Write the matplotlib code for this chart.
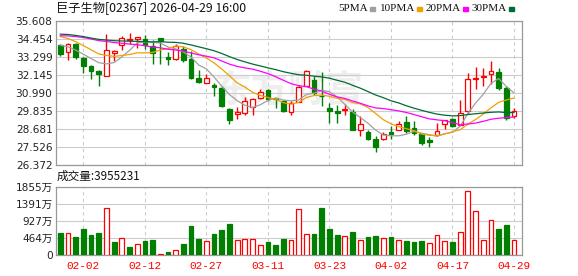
import numpy as np
import matplotlib
matplotlib.use("Agg")
import matplotlib.pyplot as plt
from matplotlib.patches import Rectangle

# 日期 (HK trading days)
dates = ["01-28", "01-29", "01-30", "02-02", "02-03", "02-04", "02-05", "02-06",
         "02-09", "02-10", "02-11", "02-12", "02-13", "02-16", "02-20", "02-23",
         "02-24", "02-25", "02-26", "02-27", "03-02", "03-03", "03-04", "03-05",
         "03-06", "03-09", "03-10", "03-11", "03-12", "03-13", "03-16", "03-17",
         "03-18", "03-19", "03-20", "03-23", "03-24", "03-25", "03-26", "03-27",
         "03-30", "03-31", "04-01", "04-02", "04-08", "04-09", "04-10", "04-13",
         "04-14", "04-15", "04-16", "04-17", "04-20", "04-21", "04-22", "04-23",
         "04-24", "04-27", "04-28", "04-29"]

opens = [34.07, 33.60, 34.13, 33.22, 32.73, 32.36, 32.05, 33.54, 34.05, 34.35,
         34.43, 34.43, 34.01, 34.50, 33.26, 33.15, 33.79, 33.15, 31.94, 31.62,
         31.49, 31.30, 29.96, 29.61, 29.70, 30.06, 30.66, 31.19, 30.64, 30.49,
         29.74, 30.42, 31.45, 31.79, 30.79, 30.00, 29.85, 29.90, 29.74, 28.63,
         28.50, 28.03, 28.03, 28.46, 28.63, 29.12, 28.74, 28.36, 27.99, 28.27,
         29.00, 29.30, 28.95, 29.81, 31.88, 32.00, 32.22, 32.30, 31.30, 29.49]
highs = [34.10, 34.15, 34.15, 33.26, 32.75, 32.47, 34.77, 33.73, 34.60, 34.82,
         34.58, 34.71, 34.39, 34.52, 33.60, 34.10, 33.96, 33.69, 32.47, 32.22,
         31.62, 31.41, 30.00, 30.09, 30.73, 30.64, 31.26, 31.23, 30.66, 30.55,
         30.45, 31.49, 32.47, 32.09, 32.32, 30.34, 30.24, 30.30, 29.96, 29.49,
         28.63, 28.21, 28.46, 28.88, 29.17, 29.49, 29.17, 28.42, 28.14, 29.06,
         29.27, 29.41, 30.55, 32.26, 32.67, 32.60, 33.01, 32.58, 31.45, 30.00]
lows = [33.32, 33.07, 33.17, 32.26, 31.90, 31.41, 32.05, 33.00, 33.75, 34.13,
        33.86, 33.79, 32.81, 32.81, 32.79, 33.10, 32.94, 31.87, 31.62, 31.62,
        30.81, 30.09, 29.02, 29.32, 29.59, 29.55, 30.60, 30.45, 30.03, 29.74,
        29.59, 30.38, 31.41, 30.87, 30.17, 29.06, 29.06, 29.60, 28.59, 28.25,
        27.98, 27.18, 27.98, 28.03, 28.59, 28.42, 28.31, 27.67, 27.50, 28.21,
        28.69, 28.82, 28.91, 29.64, 31.21, 31.40, 31.58, 31.15, 29.23, 29.38]
closes = [33.49, 34.13, 33.26, 32.68, 32.36, 32.19, 33.73, 33.68, 34.50, 34.44,
          34.56, 34.07, 33.54, 34.28, 33.17, 33.96, 33.07, 31.94, 31.71, 31.94,
          31.34, 30.17, 29.23, 29.78, 30.47, 30.60, 31.06, 30.60, 30.58, 29.81,
          30.34, 31.34, 32.37, 30.98, 30.77, 29.85, 29.70, 29.96, 28.59, 28.97,
          28.03, 27.50, 28.38, 28.33, 28.97, 28.53, 28.42, 27.78, 27.85, 28.55,
          29.27, 28.88, 29.72, 31.90, 31.92, 32.05, 32.37, 31.30, 29.38, 29.81]
# 成交量 (万股)
volumes = [606, 597, 489, 706, 543, 597, 1267, 353, 452, 217,
           290, 380, 407, 27, 81, 127, 299, 787, 434, 380,
           570, 679, 842, 407, 425, 425, 262, 353, 271, 434,
           407, 1240, 561, 570, 1276, 706, 543, 507, 624, 407,
           489, 516, 452, 489, 407, 380, 353, 380, 317, 534,
           380, 353, 624, 1729, 1186, 407, 950, 706, 815, 395.5231]
# closes before the visible window (for the moving averages)
prior_closes = [34.8, 35.1, 34.9, 35.2, 34.7, 35.0, 34.9, 35.1, 34.8, 35.0,
                34.4, 34.1, 33.9, 34.2, 34.3, 34.8, 35.1, 35.4, 35.5, 35.3,
                35.4, 35.3, 35.2, 35.0, 34.9, 34.6, 34.3, 34.0, 33.76]

ma_periods = [5, 10, 20, 30]
ma_labels = ["5PMA", "10PMA", "20PMA", "30PMA"]
ma_colors = ["#a0a0a0", "#f0a000", "#ff00ff", "#006b35"]

tick_dates = ["02-02", "02-12", "02-27", "03-11", "03-23", "04-02", "04-17", "04-29"]
price_ticks = [26.372, 27.526, 28.681, 29.835, 30.990, 32.145, 33.299, 34.454, 35.608]
vol_ticks = [0, 464, 927, 1391, 1855]

RED = "#ff0000"
GREEN = "#007f00"
GRID = "#cccccc"
FRAME = "#999999"

W, H = 578, 276
fig = plt.figure(figsize=(W / 100, H / 100), dpi=100)


def fx(px):
    return px / W


def fy(py):
    return 1 - py / H


ax_p = fig.add_axes([fx(56), fy(165), fx(466), 144.3 / H])
ax_v = fig.add_axes([fx(56), fy(255), fx(466), 68.3 / H])

x = np.arange(len(dates))
o = np.array(opens)
c = np.array(closes)
up = c >= o
prev = np.array(prior_closes[-1:] + closes[:-1])
vol_up = c >= prev

# candles
ax_p.vlines(x, lows, highs, colors=np.where(up, RED, GREEN), linewidth=1, zorder=2)
body_lo = np.minimum(o, c)
body_h = np.maximum(np.abs(c - o), 0.03)
ax_p.bar(x, body_h, bottom=body_lo, width=0.62,
         color=np.where(up, "white", GREEN), edgecolor=np.where(up, RED, GREEN),
         linewidth=0.9, zorder=3)

# moving averages
all_closes = np.array(prior_closes + closes)
for n, col in zip(ma_periods, ma_colors):
    ma = np.convolve(all_closes, np.ones(n) / n, mode="valid")[-len(dates):]
    ax_p.plot(x, ma, color=col, linewidth=0.9, zorder=4)

# volume bars
ax_v.bar(x, volumes, width=0.62, color=np.where(vol_up, "white", GREEN),
         edgecolor=np.where(vol_up, RED, GREEN), linewidth=0.9, zorder=3)

tick_pos = [dates.index(d) for d in tick_dates]
for ax in (ax_p, ax_v):
    ax.set_xlim(-0.56, 60.04)
    ax.set_xticks(tick_pos)
    for sp in ax.spines.values():
        sp.set_color(FRAME)
        sp.set_linewidth(0.9)
    ax.tick_params(length=0, labelsize=7.6, colors="#222222")
    ax.grid(axis="y", color=GRID, linewidth=0.8)
    ax.grid(axis="x", color=GRID, linewidth=0.8, linestyle=(0, (3, 3)))
    ax.set_axisbelow(True)

ax_p.set_ylim(price_ticks[0], price_ticks[-1])
ax_p.set_yticks(price_ticks)
ax_p.set_yticklabels([f"{t:.3f}" for t in price_ticks])
ax_p.set_xticklabels([])
ax_p.tick_params(axis="y", pad=2.5)

ax_v.set_ylim(vol_ticks[0], vol_ticks[-1])
ax_v.set_yticks(vol_ticks)
ax_v.set_yticklabels([str(t) if t == 0 else f"{t}万" for t in vol_ticks],
                     family=["DejaVu Sans", "Noto Sans CJK SC"])
ax_v.tick_params(axis="y", pad=2.5)
ax_v.set_xticklabels(tick_dates, color=RED, fontsize=8, family="Liberation Mono")
ax_v.tick_params(axis="x", pad=4, colors=RED)

# watermark
ax_p.text(0.5, 0.51, "东方财富", transform=ax_p.transAxes, ha="center", va="center",
          fontsize=27, color="#eeeeee", fontweight="bold", style="italic",
          family="Noto Sans CJK SC", zorder=0.5)

# header
fig.text(fx(56), fy(8.5), "巨子生物[02367] 2026-04-29 16:00", va="center", ha="left",
         fontsize=8.8, family=["Noto Sans CJK SC", "DejaVu Sans"], color="#111111")

legend_x = [338, 380, 426, 472]
fig.canvas.draw()
renderer = fig.canvas.get_renderer()
for lx, lab, col in zip(legend_x, ma_labels, ma_colors):
    t = fig.text(fx(lx), fy(8.5), lab, va="center", ha="left", fontsize=8,
                 family="Liberation Serif", color="#111111")
    bb = t.get_window_extent(renderer=renderer)
    fig.patches.append(Rectangle((fx(bb.x1 + 2), fy(11)), fx(5), 4 / H,
                                 transform=fig.transFigure, color=col))

fig.text(fx(57), fy(176.5), f"成交量:{int(round(volumes[-1] * 1e4))}", va="center",
         ha="left", fontsize=8.4, family=["Noto Sans CJK SC", "DejaVu Sans"],
         color="#111111")

fig.savefig("out.png", dpi=100)
